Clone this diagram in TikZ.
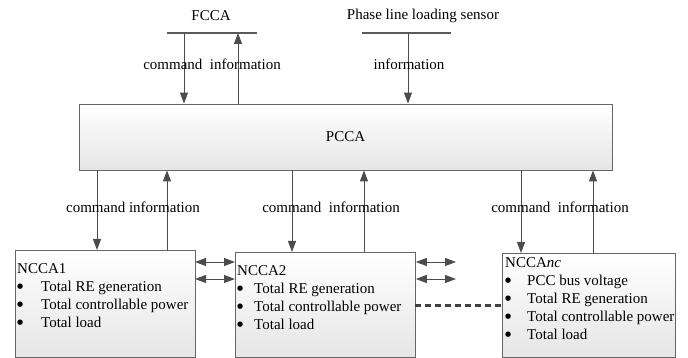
\documentclass[tikz,border=0pt]{standalone}
\usepackage{fontspec}
\setmainfont{Liberation Serif}
\newfontfamily\symfont{DejaVu Sans}
\usepackage{tikz}
\usetikzlibrary{arrows.meta,positioning}

\newcommand{\bul}[1]{\makebox[#1][l]{\raisebox{2.5pt}{\symfont\fontsize{7}{18}\selectfont ●}}}

\begin{document}
\begin{tikzpicture}[x=1pt, y=-1pt,
    font=\fontsize{15}{18}\selectfont,
    agent/.style={draw=black!60, top color=white, bottom color=black!10, line width=0.8pt, inner sep=0pt},
    agenttext/.style={anchor=north west, inner sep=0pt, align=left},
    label/.style={inner sep=0pt},
    bar/.style={draw=black!65, line width=1.2pt},
    arrow/.style={-{Triangle[length=11pt,width=8pt]}, draw=black!70, line width=1pt},
    twoway/.style={{Triangle[length=11pt,width=8pt]}-{Triangle[length=11pt,width=8pt]}, draw=black!70, line width=1pt},
    peer/.style={draw=black!75, line width=3pt, dash pattern=on 6pt off 4pt}
]
\useasboundingbox (0,0) rectangle (688,358);

% central agent
\node[agent, minimum width=533pt, minimum height=66pt] (pcca) at (345.5,137) {PCCA};

% upper level
\node[label] (fcca) at (211,16) {FCCA};
\node[label] (sensor) at (423,16) {Phase line loading sensor};
\coordinate (fccaL) at (167,33);
\coordinate (fccaR) at (257,33);
\coordinate (sensorL) at (362,33);
\coordinate (sensorR) at (451,33);
\draw[bar] (fccaL) -- (fccaR);
\draw[bar] (sensorL) -- (sensorR);
\coordinate (fccacmd) at (184,33);
\coordinate (fccainf) at (238,33);
\coordinate (sensorinf) at (408,33);
\draw[arrow] (fccacmd) -- (fccacmd |- pcca.north);
\draw[arrow] (fccainf |- pcca.north) -- (fccainf);
\draw[arrow] (sensorinf) -- (sensorinf |- pcca.north);
\node[label] (fccalab) at (212,64) {command\ \ information};
\node[label] (sensorlab) at (409,64) {information};

% lower level agents
\node[agent, anchor=north west, minimum width=180pt, minimum height=107pt] (ncca1) at (15,250) {};
\node[agent, anchor=north west, minimum width=180pt, minimum height=105pt] (ncca2) at (235,252) {};
\node[agent, anchor=north west, minimum width=173pt, minimum height=104pt] (nccanc) at (502,253) {};

\node[agenttext] (ncca1txt) at (17,263) {NCCA1\\\bul{24pt}Total RE generation\\\bul{24pt}Total controllable power\\\bul{24pt}Total load};
\node[agenttext] (ncca2txt) at (237,265) {NCCA2\\\bul{17pt}Total RE generation\\\bul{17pt}Total controllable power\\\bul{17pt}Total load};
\node[agenttext] (nccanctxt) at (505,257) {NCCA\textit{nc}\\\bul{22pt}PCC bus voltage\\\bul{22pt}Total RE generation\\\bul{22pt}Total controllable power\\\bul{22pt}Total load};

% vertical links
\coordinate (cmd1) at (97,250);
\coordinate (inf1) at (167,250);
\coordinate (cmd2) at (292,252);
\coordinate (inf2) at (364,252);
\coordinate (cmdnc) at (521,253);
\coordinate (infnc) at (593,253);
\draw[arrow] (cmd1 |- pcca.south) -- (cmd1);
\draw[arrow] (inf1) -- (inf1 |- pcca.south);
\draw[arrow] (cmd2 |- pcca.south) -- (cmd2);
\draw[arrow] (inf2) -- (inf2 |- pcca.south);
\draw[arrow] (cmdnc |- pcca.south) -- (cmdnc);
\draw[arrow] (infnc) -- (infnc |- pcca.south);
\node[label] (lab1) at (133,207) {command information};
\node[label] (lab2) at (331,207) {command\ \ information};
\node[label] (labnc) at (560,207) {command\ \ information};

% peer links
\coordinate (pA) at (195,262);
\coordinate (pB) at (195,279);
\coordinate (qA) at (456,262);
\coordinate (qB) at (456,279);
\coordinate (dash) at (415,305);
\draw[twoway] (pA) -- (pA -| ncca2.west);
\draw[twoway] (pB) -- (pB -| ncca2.west);
\draw[twoway] (pA -| ncca2.east) -- (qA);
\draw[twoway] (pB -| ncca2.east) -- (qB);
\draw[peer] (dash) -- (dash -| nccanc.west);
\end{tikzpicture}
\end{document}
